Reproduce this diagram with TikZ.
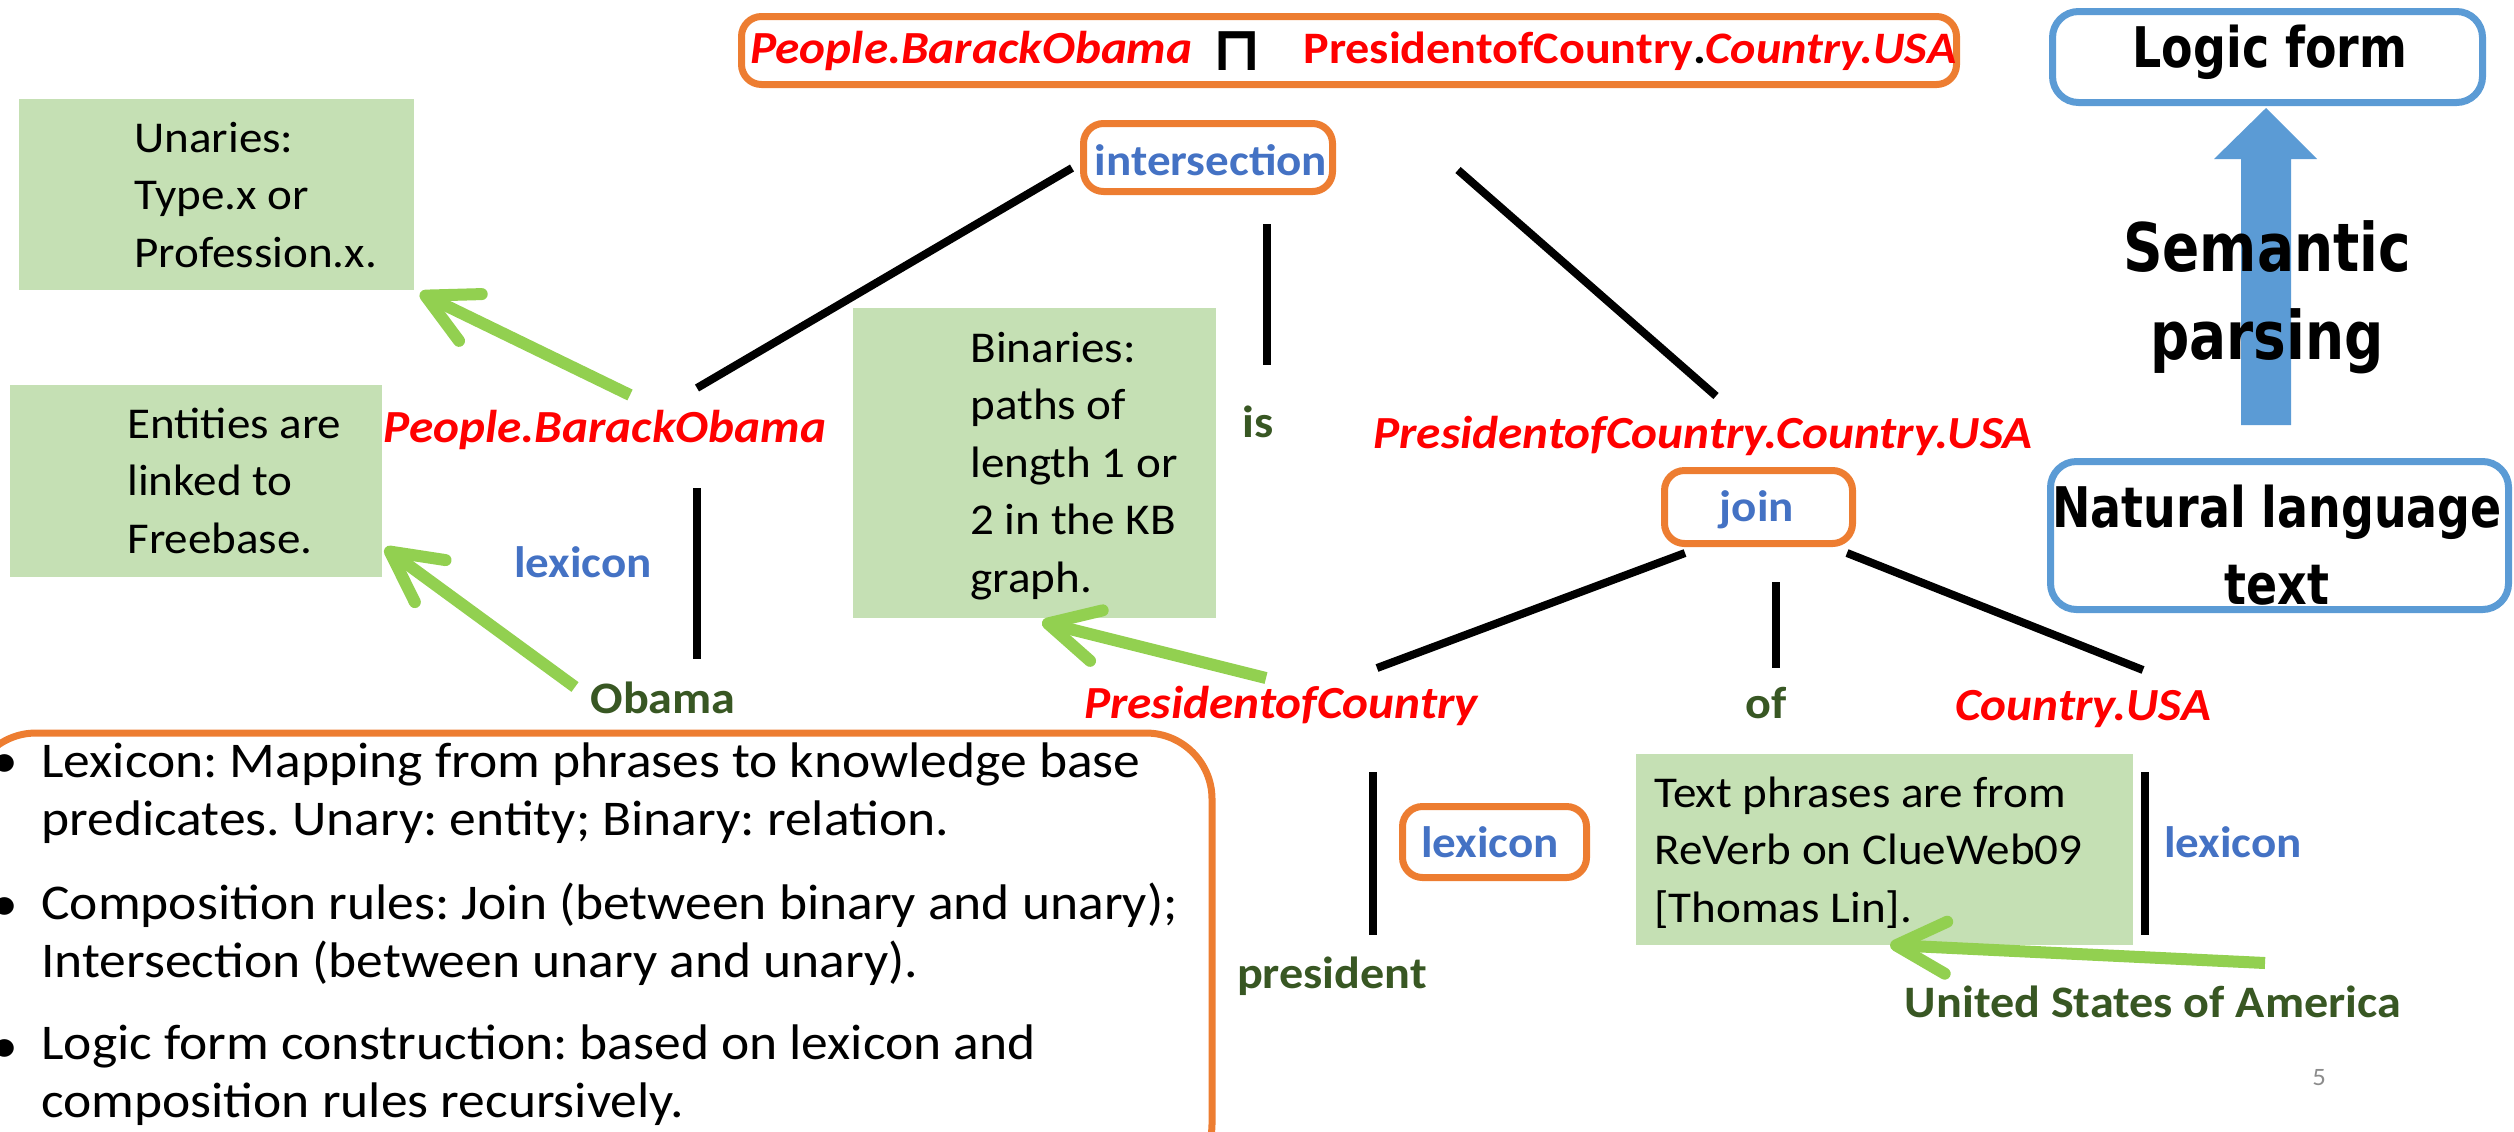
\documentclass[tikz,border=0pt]{standalone}
\usepackage{fontspec}
\setmainfont{Carlito}[FakeStretch=1.07]
\newfontfamily\headfont{DejaVu Sans}[FakeStretch=0.82]
\newfontfamily\symfont{DejaVu Sans}
\usetikzlibrary{arrows.meta}
\definecolor{kbred}{HTML}{FF0000}
\definecolor{orng}{HTML}{ED7D31}
\definecolor{bluetxt}{HTML}{4472C4}
\definecolor{dgreen}{HTML}{385723}
\definecolor{boxgreen}{HTML}{C5E0B4}
\definecolor{arrgreen}{HTML}{92D050}
\definecolor{boxblue}{HTML}{5B9BD5}
\definecolor{pagegray}{HTML}{8C8C8C}
\begin{document}
\frenchspacing
\begin{tikzpicture}[x=0.5pt,y=-0.5pt,
  pred/.style={text=kbred, font=\fontsize{23}{28}\selectfont\bfseries\itshape, inner sep=0, anchor=base},
  word/.style={text=dgreen, font=\fontsize{22.5}{26}\selectfont\bfseries, inner sep=0, anchor=base},
  rulelbl/.style={text=bluetxt, font=\fontsize{22}{25}\selectfont\bfseries, inner sep=0, anchor=base},
  obox/.style={draw=orng, line width=3.5pt, rounded corners=10pt, inner sep=0},
  bbox/.style={draw=boxblue, line width=3.5pt, rounded corners=13pt, inner sep=0},
  gbox/.style={fill=boxgreen, inner sep=0},
  gtext/.style={font=\fontsize{22}{28.75}\selectfont, align=left, anchor=base west, inner sep=0},
  btext/.style={font=\fontsize{25}{29}\selectfont, align=left, anchor=base west, inner sep=0},
  headtxt/.style={inner sep=0, anchor=base, font=\headfont\bfseries\fontsize{28}{32}\selectfont},
  bigtxt/.style={inner sep=0, anchor=base, font=\headfont\bfseries\fontsize{33.5}{36}\selectfont},
  treeline/.style={line width=4pt},
  garrow/.style={draw=arrgreen, line width=6pt, -{Straight Barb[length=25pt,width=26pt,round]}}
]
\useasboundingbox (0,0) rectangle (2514,1131);

% ---------- top logic form box ----------
\node[obox, minimum width=607.5pt, minimum height=34pt] (topbox) at (1349,50.5) {};
\node[pred, anchor=base west] (lfA) at (750,63) {People.BarackObama};
\node[inner sep=0, font=\symfont\bfseries\fontsize{31}{31}\selectfont, anchor=base] (meet) at (1237,70) {⊓};
\node[inner sep=0, anchor=base west, text=kbred, font=\fontsize{22.5}{28}\selectfont\bfseries] (lfB) at (1303,63) {PresidentofCountry\textcolor{black}{.}\textit{Country.USA}};

% ---------- rule boxes ----------
\node[obox, minimum width=124.5pt, minimum height=34pt] (interbox) at (1208,157.5) {};
\node[rulelbl] (inter) at (1211,175) {intersection};
\node[obox, minimum width=94pt, minimum height=36.5pt] (joinbox) at (1758.5,507) {};
\node[rulelbl] (join) at (1757,521) {join};
\node[obox, minimum width=92pt, minimum height=35.5pt] (lexbox) at (1494.5,842) {};
\node[rulelbl] (lexB) at (1490,857) {lexicon};
\node[rulelbl] (lexA) at (583,577) {lexicon};
\node[rulelbl] (lexC) at (2233,857) {lexicon};

% ---------- predicates ----------
\node[pred] (pbo) at (605,442) {People.BarackObama};
\node[pred] (pcu) at (1703,448) {PresidentofCountry.Country.USA};
\node[pred] (pc) at (1281,718) {PresidentofCountry};
\node[pred] (cusa) at (2083,720) {Country.USA};

% ---------- words ----------
\node[word] (obama) at (663,713) {Obama};
\node[word] (is) at (1258,437) {is};
\node[word] (of) at (1766,718) {of};
\node[word] (pres) at (1332,988) {president};
\node[word] (usa) at (2153,1017) {United States of America};

% ---------- tree lines ----------
\coordinate (a1) at (1072,168); \coordinate (a2) at (697,388);
\coordinate (b1) at (1458,170); \coordinate (b2) at (1716,396);
\coordinate (c1) at (1267,224); \coordinate (c2) at (1267,365);
\coordinate (d1) at (697,488);  \coordinate (d2) at (697,659);
\coordinate (e1) at (1685,553); \coordinate (e2) at (1377,668);
\coordinate (f1) at (1776,582); \coordinate (f2) at (1776,668);
\coordinate (g1) at (1847,553); \coordinate (g2) at (2143,670);
\coordinate (h1) at (1373,772); \coordinate (h2) at (1373,935);
\coordinate (k1) at (2145,772); \coordinate (k2) at (2145,935);
\draw[treeline] (a1) -- (a2);
\draw[treeline] (b1) -- (b2);
\draw[treeline] (c1) -- (c2);
\draw[treeline] (d1) -- (d2);
\draw[treeline] (e1) -- (e2);
\draw[treeline] (f1) -- (f2);
\draw[treeline] (g1) -- (g2);
\draw[treeline] (h1) -- (h2);
\draw[treeline] (k1) -- (k2);

% ---------- green note boxes (text anchored at last baseline) ----------
\node[gbox, minimum width=197.5pt, minimum height=95.5pt] (unar) at (216.5,194.5) {};
\node[gtext] (unarT) at (134,267) {Unaries:\\Type.x or\\Profession.x.};
\node[gbox, minimum width=186pt, minimum height=96pt] (ent) at (196,481) {};
\node[gtext] (entT) at (127,553) {Entities are\\linked to\\Freebase.};
\node[gbox, minimum width=181.5pt, minimum height=155pt] (bin) at (1034.5,463) {};
\node[gtext] (binT) at (970,592) {Binaries:\\paths of\\length 1 or\\2 in the KB\\graph.};
\node[gbox, minimum width=248.5pt, minimum height=95.5pt] (txtp) at (1884.5,849.5) {};
\node[gtext] (txtpT) at (1654,922) {Text phrases are from\\ReVerb on ClueWeb09\\{[}Thomas Lin{]}.};

% ---------- green arrows ----------
\coordinate (t1) at (630,395);  \coordinate (p1) at (420,293);
\coordinate (t2) at (575,687);  \coordinate (p2) at (385,548);
\coordinate (t3) at (1266,678); \coordinate (p3) at (1042,622);
\coordinate (t4) at (2265,963); \coordinate (p4) at (1890,945);
\draw[garrow] (t1) -- (p1);
\draw[garrow] (t2) -- (p2);
\draw[garrow] (t3) -- (p3);
\draw[garrow] (t4) -- (p4);

% ---------- bottom summary box ----------
\draw[draw=orng, line width=3.5pt, rounded corners=33pt] (-30,733) rectangle (1212,1190);
\node[btext] (bu1) at (-9,777) {•};
\node[btext] (bt1) at (41,835) {Lexicon: Mapping from phrases to knowledge base\\predicates. Unary: entity; Binary: relation.};
\node[btext] (bu2) at (-9,920) {•};
\node[btext] (bt2) at (41,977) {Composition rules: Join (between binary and unary);\\Intersection (between unary and unary).};
\node[btext] (bu3) at (-9,1062) {•};
\node[btext] (bt3) at (41,1117) {Logic form construction: based on lexicon and\\composition rules recursively.};

% ---------- right legend ----------
\node[bbox, minimum width=215pt, minimum height=45.5pt] (lfbox) at (2267.5,57) {};
\node[headtxt] (lf) at (2270,67) {Logic form};
\node[bbox, minimum width=229pt, minimum height=74pt] (nlbox) at (2279.5,535.5) {};
\node[headtxt] (nl1) at (2277,527) {Natural language};
\node[headtxt] (nl2) at (2277,604) {text};
\fill[boxblue] (2241,425) -- (2291,425) -- (2291,159) -- (2317,159) -- (2266,108) -- (2214,159) -- (2241,159) -- cycle;
\node[bigtxt] (sem1) at (2267,271) {Semantic};
\node[bigtxt] (sem2) at (2267,359) {parsing};

\node[inner sep=0, anchor=base, text=pagegray, font=\fontsize{12.5}{14}\selectfont] (pg) at (2319,1085) {5};
\end{tikzpicture}
\end{document}
